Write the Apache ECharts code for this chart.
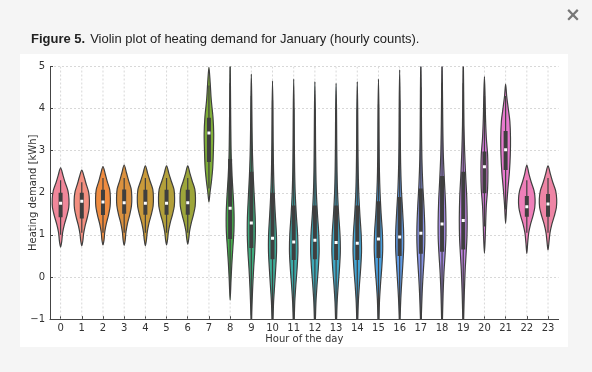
<!DOCTYPE html>
<html>
<head>
<meta charset="utf-8">
<script src="https://cdn.jsdelivr.net/npm/echarts@6/dist/echarts.min.js"></script>
<style>
html,body{margin:0;padding:0;background:#f5f5f5;}
#chart{width:592px;height:372px;}
</style>
</head>
<body>
<div id="chart"></div>
<script>
// ---------------- data ----------------
const hours = ['0','1','2','3','4','5','6','7','8','9','10','11','12','13','14','15','16','17','18','19','20','21','22','23'];
const yTicks = [-1, 0, 1, 2, 3, 4, 5];

// density profile per hour: [value (kWh), relative density] from top to bottom
const profiles = [
  [[2.59,0],[2.40,0.24],[2.25,0.42],[2.05,0.69],[1.85,0.79],[1.65,0.77],[1.45,0.59],[1.25,0.36],[1.05,0.19],[0.85,0.11],[0.71,0]],
  [[2.54,0],[2.38,0.22],[2.22,0.40],[2.02,0.64],[1.82,0.72],[1.62,0.69],[1.42,0.53],[1.22,0.32],[1.02,0.17],[0.86,0.10],[0.74,0]],
  [[2.62,0],[2.44,0.22],[2.27,0.40],[2.07,0.64],[1.87,0.70],[1.67,0.67],[1.47,0.52],[1.27,0.32],[1.07,0.17],[0.88,0.10],[0.76,0]],
  [[2.66,0],[2.47,0.22],[2.29,0.42],[2.09,0.66],[1.89,0.72],[1.69,0.69],[1.49,0.54],[1.29,0.33],[1.07,0.17],[0.88,0.10],[0.75,0]],
  [[2.64,0],[2.45,0.23],[2.28,0.44],[2.08,0.70],[1.88,0.76],[1.68,0.73],[1.48,0.56],[1.28,0.34],[1.07,0.18],[0.88,0.10],[0.74,0]],
  [[2.64,0],[2.45,0.23],[2.28,0.44],[2.08,0.70],[1.88,0.76],[1.68,0.73],[1.48,0.56],[1.28,0.34],[1.08,0.18],[0.90,0.10],[0.76,0]],
  [[2.64,0],[2.45,0.22],[2.28,0.42],[2.08,0.67],[1.88,0.73],[1.68,0.70],[1.48,0.54],[1.28,0.33],[1.08,0.17],[0.92,0.10],[0.78,0]],
  [[4.98,0],[4.60,0.12],[4.20,0.22],[3.80,0.38],[3.40,0.45],[3.00,0.42],[2.60,0.36],[2.30,0.25],[2.00,0.10],[1.78,0]],
  [[5.30,0],[4.50,0.03],[3.60,0.06],[2.90,0.10],[2.40,0.18],[1.90,0.30],[1.50,0.37],[1.10,0.36],[0.70,0.26],[0.30,0.16],[-0.10,0.08],[-0.55,0]],
  [[4.82,0],[4.20,0.04],[3.50,0.07],[2.90,0.11],[2.40,0.18],[1.90,0.28],[1.40,0.37],[1.00,0.38],[0.60,0.32],[0.20,0.22],[-0.30,0.12],[-0.80,0.05],[-1.30,0]],
  [[4.66,0],[4.00,0.04],[3.20,0.06],[2.50,0.10],[2.00,0.16],[1.50,0.26],[1.00,0.37],[0.60,0.38],[0.20,0.30],[-0.20,0.20],[-0.60,0.10],[-1.00,0.05],[-1.30,0]],
  [[4.70,0],[4.00,0.04],[3.20,0.06],[2.50,0.09],[2.00,0.14],[1.50,0.24],[1.00,0.37],[0.60,0.40],[0.20,0.32],[-0.20,0.20],[-0.60,0.10],[-1.00,0.05],[-1.30,0]],
  [[4.64,0],[4.00,0.04],[3.20,0.06],[2.50,0.09],[2.00,0.14],[1.50,0.24],[1.00,0.37],[0.60,0.40],[0.20,0.32],[-0.20,0.20],[-0.60,0.10],[-1.00,0.05],[-1.30,0]],
  [[4.60,0],[4.00,0.04],[3.20,0.06],[2.50,0.09],[2.00,0.14],[1.50,0.24],[1.00,0.37],[0.60,0.40],[0.20,0.32],[-0.20,0.20],[-0.60,0.10],[-1.00,0.05],[-1.30,0]],
  [[4.64,0],[4.00,0.04],[3.20,0.06],[2.50,0.09],[2.00,0.14],[1.50,0.24],[1.00,0.37],[0.60,0.40],[0.20,0.32],[-0.20,0.20],[-0.60,0.10],[-1.00,0.05],[-1.30,0]],
  [[4.70,0],[4.00,0.04],[3.20,0.06],[2.50,0.09],[2.00,0.15],[1.50,0.25],[1.05,0.37],[0.65,0.40],[0.25,0.32],[-0.15,0.20],[-0.55,0.10],[-1.00,0.05],[-1.30,0]],
  [[4.92,0],[4.20,0.04],[3.40,0.06],[2.70,0.09],[2.10,0.16],[1.60,0.27],[1.10,0.37],[0.70,0.38],[0.30,0.30],[-0.10,0.20],[-0.50,0.11],[-0.90,0.05],[-1.30,0]],
  [[5.30,0],[4.40,0.04],[3.60,0.06],[2.80,0.10],[2.20,0.18],[1.70,0.29],[1.20,0.37],[0.80,0.37],[0.40,0.30],[0.00,0.20],[-0.40,0.12],[-0.90,0.05],[-1.30,0]],
  [[5.30,0],[4.40,0.04],[3.60,0.07],[2.90,0.12],[2.30,0.22],[1.80,0.32],[1.30,0.37],[0.90,0.36],[0.50,0.28],[0.10,0.18],[-0.40,0.10],[-0.90,0.05],[-1.30,0]],
  [[5.30,0],[4.40,0.04],[3.60,0.07],[3.00,0.13],[2.40,0.23],[1.90,0.33],[1.40,0.37],[0.95,0.35],[0.55,0.27],[0.15,0.18],[-0.40,0.10],[-0.90,0.05],[-1.30,0]],
  [[4.76,0],[4.30,0.06],[3.80,0.10],[3.30,0.18],[2.90,0.30],[2.50,0.33],[2.10,0.30],[1.70,0.18],[1.30,0.12],[0.90,0.07],[0.56,0]],
  [[4.58,0],[4.30,0.10],[4.00,0.25],[3.70,0.40],[3.30,0.46],[2.90,0.44],[2.50,0.36],[2.10,0.22],[1.70,0.10],[1.27,0]],
  [[2.66,0],[2.45,0.20],[2.25,0.42],[2.05,0.68],[1.85,0.78],[1.65,0.75],[1.45,0.58],[1.25,0.35],[1.05,0.18],[0.80,0.08],[0.56,0]],
  [[2.64,0],[2.45,0.22],[2.25,0.45],[2.05,0.72],[1.85,0.82],[1.65,0.79],[1.45,0.60],[1.25,0.36],[1.05,0.19],[0.85,0.10],[0.64,0]]
];

const q1          = [1.42,1.39,1.47,1.50,1.48,1.48,1.48,2.73,0.90,0.69,0.42,0.40,0.42,0.40,0.40,0.45,0.50,0.55,0.60,0.65,1.99,2.54,1.43,1.43];
const median      = [1.75,1.80,1.78,1.76,1.75,1.75,1.76,3.42,1.63,1.28,0.92,0.83,0.87,0.82,0.80,0.90,0.95,1.04,1.26,1.34,2.62,3.02,1.67,1.73];
const q3          = [2.00,2.00,2.07,2.08,2.07,2.07,2.07,3.78,2.80,2.50,2.00,1.70,1.70,1.70,1.70,1.80,1.90,2.10,2.40,2.50,2.98,3.47,1.92,1.97];
const whiskerLow  = [1.00,1.05,1.05,1.05,1.05,1.05,1.05,2.10,-0.30,-0.90,-1.0,-1.0,-1.0,-1.0,-1.0,-1.0,-1.0,-1.0,-1.0,-1.0,1.20,1.60,1.05,1.05];
const whiskerHigh = [2.30,2.25,2.35,2.35,2.35,2.35,2.35,4.55,4.60,4.30,4.20,4.00,4.00,4.00,4.00,4.10,4.20,4.50,4.60,4.60,4.30,4.30,2.30,2.35];

const colors = ['#f0879a','#f38f80','#ef8c40','#db913f','#c99a3a','#b3a03a','#9da63a','#7fae38',
                '#48b04e','#3fad7e','#3dab96','#3caaa8','#3ea9b8','#40a7c6','#43a5d4','#4aa1e0',
                '#5f9be6','#8794e6','#a58be4','#bf84e0','#d77bdc','#e879cf','#ee7fb9','#ee85a5'];

// ---------------- chart ----------------
const chart = echarts.init(document.getElementById('chart'), null, {renderer:'canvas'});
const dark = '#3f3f3f';

function renderItem(params, api) {
  const h = api.value(0);
  const prof = profiles[h];
  const band = api.size([1, 0])[0];
  const half = band / 2;
  const cx = api.coord([h, 0])[0];
  const right = prof.map(p => [cx + p[1] * half, api.coord([h, p[0]])[1]]);
  const left = [];
  for (let i = prof.length - 2; i >= 1; i--) {
    left.push([cx - prof[i][1] * half, api.coord([h, prof[i][0]])[1]]);
  }
  const pts = right.concat(left);
  const cs = params.coordSys;
  const yq1 = api.coord([h, q1[h]])[1];
  const yq3 = api.coord([h, q3[h]])[1];
  const ym = api.coord([h, median[h]])[1];
  const ywl = api.coord([h, whiskerLow[h]])[1];
  const ywh = api.coord([h, whiskerHigh[h]])[1];
  return {
    type: 'group',
    children: [
      {type:'line', silent:true, shape:{x1:cx, y1:cs.y, x2:cx, y2:cs.y + cs.height},
        style:{stroke:'#d8d8d8', lineWidth:1, lineDash:[2,2]}},
      {type:'polygon', shape:{points:pts, smooth:0.3},
        style:{fill:colors[h], stroke:dark, lineWidth:1.2}},
      {type:'line', shape:{x1:cx, y1:ywh, x2:cx, y2:ywl}, style:{stroke:dark, lineWidth:1.2}},
      {type:'rect', shape:{x:cx - 2, y:yq3, width:4, height:yq1 - yq3}, style:{fill:dark}},
      {type:'rect', shape:{x:cx - 1.5, y:ym - 1.5, width:3, height:3}, style:{fill:'#ffffff'}}
    ]
  };
}

const option = {
  backgroundColor: '#f5f5f5',
  animation: false,
  title: {
    text: '{b|Figure 5.} {n|Violin plot of heating demand for January (hourly counts).}',
    left: 26, top: 25,
    textStyle: {
      rich: {
        b: {fontFamily:'Liberation Sans, Arial, sans-serif', fontSize:13, fontWeight:'bold', color:'#222'},
        n: {fontFamily:'Liberation Sans, Arial, sans-serif', fontSize:13, fontWeight:'normal', color:'#222'}
      }
    }
  },
  graphic: [
    {type:'rect', left:20, top:54, shape:{width:548, height:293}, style:{fill:'#ffffff'}, z:-10, silent:true},
    {type:'text', left:565, top:7, style:{text:'×', fontSize:19, fontWeight:'bold', fill:'#777', fontFamily:'DejaVu Sans, sans-serif'}}
  ],
  grid: {left:50, right:33.4, top:66.5, bottom:53, containLabel:false},
  xAxis: {
    type: 'category',
    data: hours,
    boundaryGap: true,
    name: 'Hour of the day',
    nameLocation: 'middle',
    nameGap: 15,
    nameMoveOverlap: false,
    nameTextStyle: {fontFamily:'DejaVu Sans, sans-serif', fontSize:10, color:'#333'},
    axisLine: {show:true, onZero:false, lineStyle:{color:'#444', width:1}},
    axisTick: {show:true, inside:true, length:3, alignWithLabel:true, lineStyle:{color:'#444'}},
    axisLabel: {fontFamily:'DejaVu Sans, sans-serif', fontSize:10, color:'#333', margin:4, interval:0},
    splitLine: {show:false}
  },
  yAxis: {
    type: 'value',
    min: -1, max: 5, interval: 1,
    name: 'Heating demand [kWh]',
    nameLocation: 'middle',
    nameGap: 12,
    nameMoveOverlap: false,
    nameTextStyle: {fontFamily:'DejaVu Sans, sans-serif', fontSize:10, color:'#333'},
    axisLine: {show:true, onZero:false, lineStyle:{color:'#444', width:1}},
    axisTick: {show:true, inside:true, length:3, lineStyle:{color:'#444'}},
    axisLabel: {fontFamily:'DejaVu Sans, sans-serif', fontSize:10, color:'#333', margin:5,
      formatter: v => (yTicks.indexOf(v) >= 0 ? String(v).replace('-', '\u2212') : '')},
    splitLine: {show:true, lineStyle:{color:'#d8d8d8', type:[2,2], width:1}}
  },
  series: [{
    type: 'custom',
    renderItem: renderItem,
    clip: true,
    data: hours.map((h, i) => [i]),
    encode: {x:0},
    z: 2
  }]
};
chart.setOption(option);
</script>
</body>
</html>
